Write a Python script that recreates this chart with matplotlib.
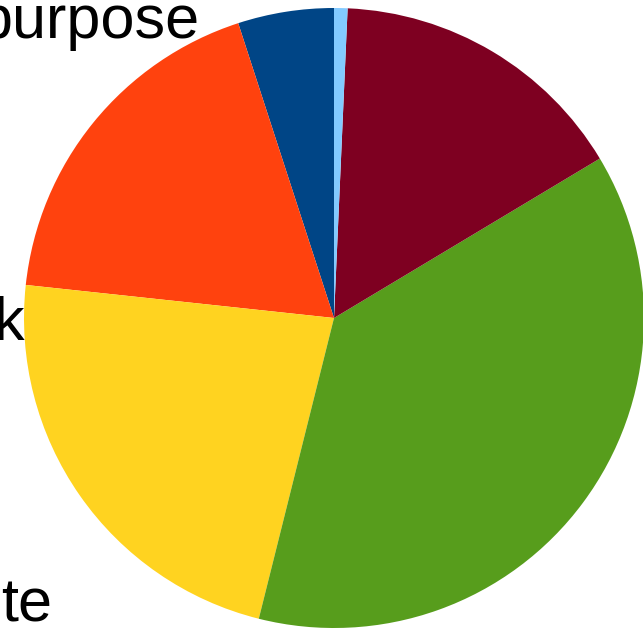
import matplotlib.pyplot as plt

# slice shares, counterclockwise from 12 o'clock
shares = [5.0, 18.3, 22.8, 37.5, 15.7, 0.7]
colors = ["#004586", "#ff420e", "#ffd320", "#579d1c", "#7e0021", "#83caff"]
label_texts = ["purpose", "k", "te"]

W, H = 643, 629
cx, cy, r = 334, 318, 310  # pie centre / radius in pixels

fig = plt.figure(figsize=(W / 100, H / 100), dpi=100)
ax = fig.add_axes([0, 0, 1, 1])
ax.pie(shares, colors=colors, startangle=90, counterclock=True,
       radius=r, center=(0, 0), wedgeprops=dict(linewidth=0))
ax.set_xlim(-cx, W - cx)
ax.set_ylim(-(H - cy), cy)
ax.set_aspect("equal")
ax.axis("off")

# label anchors (right edge, baseline) in pixel coords
anchors = [(199, 38), (25, 340), (52, 622)]
for txt, (px, py) in zip(label_texts, anchors):
    ax.text(px - cx, cy - py, txt, ha="right", va="baseline",
            fontsize=44, family=["Liberation Sans", "DejaVu Sans"], color="black")

fig.savefig("out.png", dpi=100)
